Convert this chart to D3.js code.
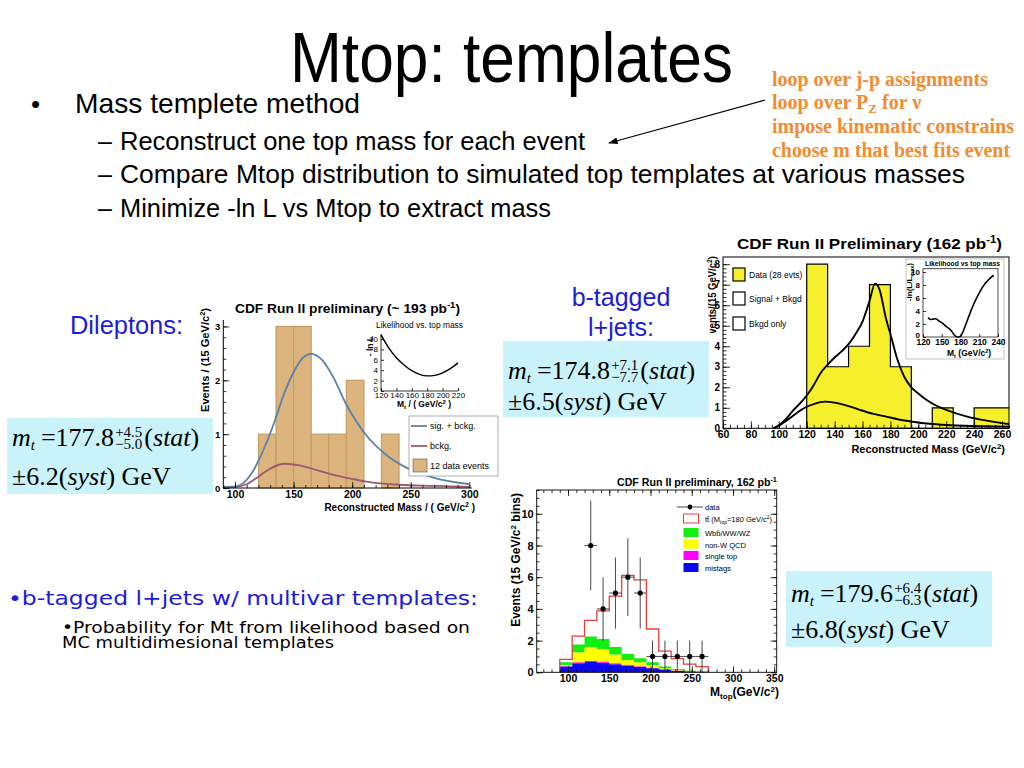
<!DOCTYPE html>
<html><head><meta charset="utf-8">
<script src="https://cdn.jsdelivr.net/npm/d3@7/dist/d3.min.js"></script>
<style>
html,body{margin:0;padding:0;background:#fff;}
svg{display:block;}
</style></head>
<body>
<svg id="slide" width="1024" height="768"></svg>
<script>
// ================= DATA =================
const titleText = "Mtop: templates";
const mainBullet = "Mass templete method";
const subBullets = ["Reconstruct one top mass for each event",
  "Compare Mtop distribution to simulated top templates at various masses",
  "Minimize -ln L vs Mtop to extract mass"];
const noteLines = ["loop over j-p assignments", "loop over P", "impose kinematic constrains", "choose m that best fits event"];

// Chart 1: dileptons
const dilBinLo = [120, 135, 150, 165, 180, 195, 225];
const dilCounts = [1, 3, 3, 1, 1, 2, 1];
const dilSigMass = [90, 100, 107, 115, 121, 127, 134, 141, 150, 158, 165, 175, 184, 195, 212, 230, 247, 270, 300];
const dilSigVal  = [0.02, 0.03, 0.09, 0.3, 0.55, 0.85, 1.25, 1.7, 2.15, 2.42, 2.49, 2.36, 2.05, 1.55, 0.98, 0.6, 0.37, 0.19, 0.07];
const dilBkgMass = [90, 100, 110, 120, 130, 142, 155, 170, 185, 200, 212, 240, 270, 300];
const dilBkgVal  = [0.01, 0.02, 0.07, 0.21, 0.36, 0.45, 0.42, 0.33, 0.24, 0.17, 0.12, 0.06, 0.04, 0.02];
const dilLikeMass = [120, 130, 140, 150, 160, 170, 180, 190, 200, 210, 220];
const dilLikeVal  = [10.8, 8.3, 6.4, 5.0, 3.9, 3.2, 2.9, 3.0, 3.5, 4.3, 5.4];
const dilXTicks = [100, 150, 200, 250, 300];
const dilYTicks = [0, 1, 2, 3];
const dilInsetXTicks = [120, 140, 160, 180, 200, 220];
const dilInsetYTicks = [0, 2, 4, 6, 8, 10];
const dilLegend = ["sig. + bckg.", "bckg.", "12 data events"];

// Chart 2: b-tagged l+jets
const ljBinLo = [120, 135, 150, 165, 180, 195, 210, 225, 240, 255];
const ljCounts = [8, 3, 4, 7, 3, 0, 1, 0, 1, 1];
const ljSigMass = [96, 100, 105, 110, 115, 120, 125, 130, 135, 140, 145, 150, 155, 160, 165, 169, 172, 177, 180, 185, 190, 195, 200, 206, 213, 220, 235, 250, 260, 266];
const ljSigVal  = [0, 0.15, 0.45, 0.85, 1.2, 1.6, 2.1, 2.7, 3.1, 3.45, 3.75, 4.1, 4.6, 5.2, 6.2, 7.05, 6.8, 5.3, 4.6, 3.35, 2.5, 2.0, 1.7, 1.38, 1.1, 0.9, 0.57, 0.36, 0.25, 0.2];
const ljBkgMass = [96, 100, 105, 110, 115, 120, 125, 133, 140, 150, 158, 168, 177, 186, 196, 208, 220, 240, 266];
const ljBkgVal  = [0, 0.12, 0.35, 0.6, 0.85, 1.05, 1.18, 1.3, 1.25, 1.08, 0.9, 0.7, 0.57, 0.43, 0.32, 0.22, 0.16, 0.11, 0.08];
const ljLikeMass = [128, 132, 136, 140, 145, 150, 155, 160, 165, 170, 175, 178, 182, 188, 195, 200, 210, 220, 228, 233];
const ljLikeVal  = [3.0, 2.7, 2.75, 2.8, 2.5, 2.2, 1.8, 1.4, 1.0, 0.3, 0.0, 0.0, 0.4, 1.8, 3.6, 4.8, 6.8, 8.3, 9.1, 9.5];
const ljXTicks = [60, 80, 100, 120, 140, 160, 180, 200, 220, 240, 260];
const ljYTicks = [0, 1, 2, 3, 4, 5, 6, 7, 8];
const ljInsetXTicks = [120, 150, 180, 210, 240];
const ljInsetYTicks = [0, 2, 4, 6, 8, 10];
const ljLegend = ["Data (28 evts)", "Signal + Bkgd", "Bkgd only"];

// Chart 3: multivariate templates (stacked)
const mvBinLo     = [90, 105, 120, 135, 150, 165, 180, 195, 210, 225, 240, 255];
const mvMistag    = [0.36, 0.57, 0.65, 0.60, 0.50, 0.42, 0.34, 0.25, 0.17, 0.10, 0.06, 0.04];
const mvSingleTop = [0.03, 0.06, 0.08, 0.08, 0.07, 0.06, 0.04, 0.03, 0.02, 0.02, 0.01, 0.01];
const mvNonW      = [0.07, 0.63, 0.87, 0.79, 0.56, 0.30, 0.25, 0.18, 0.06, 0.03, 0.02, 0.01];
const mvWbb       = [0.17, 0.50, 0.66, 0.63, 0.47, 0.37, 0.25, 0.17, 0.11, 0.05, 0.03, 0.02];
const mvTotal     = [0.82, 2.28, 3.27, 3.88, 4.80, 6.12, 5.83, 2.73, 1.34, 0.86, 0.52, 0.36];
const mvDataMass = [127.5, 142.5, 157.5, 172.5, 187.5, 202.5, 217.5, 232.5, 247.5, 262.5];
const mvDataVal  = [8, 4, 5, 6, 5, 1, 1, 1, 1, 1];
const mvDataErr  = [2.83, 2.0, 2.24, 2.45, 2.24, 1, 1, 1, 1, 1];
const mvXTicks = [100, 150, 200, 250, 300, 350];
const mvYTicks = [0, 2, 4, 6, 8, 10];
const mvLegend = ["data", "tt\u0304 (M", "Wbb\u0304/WW/WZ", "non-W QCD", "single top", "mistags"];
const mvColors = ["#0a0af0", "#ff00ff", "#ffff00", "#11ee11"];

// Results
const results = [
  {val: "177.8", up: "+4.5", dn: "\u22125.0", syst: "6.2"},
  {val: "174.8", up: "+7.1", dn: "\u22127.7", syst: "6.5"},
  {val: "179.6", up: "+6.4", dn: "\u22126.3", syst: "6.8"}
];

// ================= DRAW =================
const SANS = '"Liberation Sans", Arial, Helvetica, sans-serif';
const SERIF = '"Liberation Serif", "Times New Roman", serif';
const svg = d3.select("#slide");

function txt(g, x, y, s, o = {}) {
  const t = g.append("text").attr("x", x).attr("y", y).text(s)
    .attr("font-family", o.family || SANS).attr("font-size", o.size || 12)
    .attr("fill", o.fill || "#000");
  if (o.weight) t.attr("font-weight", o.weight);
  if (o.anchor) t.attr("text-anchor", o.anchor);
  if (o.style) t.attr("font-style", o.style);
  if (o.len) t.attr("textLength", o.len).attr("lengthAdjust", "spacingAndGlyphs");
  return t;
}
function sup(t, s, dy, rel) {
  t.append("tspan").attr("dy", -dy).attr("font-size", rel).text(s);
}
function rot(g, x, y, size, weight) {
  return g.append("text").attr("transform", `translate(${x},${y}) rotate(-90)`)
    .attr("text-anchor", "end").attr("font-family", SANS).attr("font-size", size)
    .attr("font-weight", weight || "bold").attr("fill", "#000");
}
function axis(g, fn, scale, ticks, size, tr, labels, fs) {
  const a = fn(scale).tickValues(ticks).tickSize(size).tickSizeOuter(0).tickPadding(3)
    .tickFormat(labels ? (d => String(d)) : "");
  const ag = g.append("g").attr("transform", tr).call(a);
  ag.select(".domain").remove();
  if (!labels) ag.selectAll("text").remove();
  ag.selectAll("text").attr("font-family", SANS).attr("font-size", fs || 10)
    .attr("font-weight", "bold").attr("fill", "#000");
  ag.selectAll("line").attr("stroke", "#000").attr("stroke-width", 0.8);
  return ag;
}
const rangeTicks = (a, b, s) => d3.range(a, b + 1e-9, s);

// ---------- slide text ----------
txt(svg, 290, 82, titleText, {size: 70, len: 443});
txt(svg, 31, 113, "\u2022", {size: 26});
txt(svg, 75, 113, mainBullet, {size: 28, len: 285});
const subY = [150, 183, 217], subLen = [465, 845, 431];
subBullets.forEach((s, i) => {
  txt(svg, 98, subY[i], "\u2013", {size: 25});
  txt(svg, 120, subY[i], s, {size: 25, len: subLen[i]});
});
const ORANGE = "#F08C32";
const noteY = [86, 109, 133, 157], noteLen = [216, null, 242, 238];
noteLines.forEach((s, i) => {
  const t = txt(svg, 772, noteY[i], s, {size: 20, family: SERIF, weight: "bold", fill: ORANGE, len: noteLen[i]});
  if (i === 1) {
    t.append("tspan").attr("dy", 4).attr("font-size", 13).text("Z");
    t.append("tspan").attr("dy", -4).text(" for \u03bd");
  }
});
// arrow
const defs = svg.append("defs");
defs.append("marker").attr("id", "ah").attr("viewBox", "0 0 10 10").attr("refX", 9).attr("refY", 5)
  .attr("markerWidth", 8).attr("markerHeight", 8).attr("orient", "auto-start-reverse")
  .append("path").attr("d", "M0,1.5L10,5L0,8.5z").attr("fill", "#000");
svg.append("line").attr("x1", 765).attr("y1", 100).attr("x2", 609).attr("y2", 143)
  .attr("stroke", "#000").attr("stroke-width", 1.2).attr("marker-end", "url(#ah)");

const BLUE = "#1c1cd8";
txt(svg, 70, 334, "Dileptons:", {size: 25, fill: BLUE, len: 113});
txt(svg, 621, 306, "b-tagged", {size: 25, fill: BLUE, anchor: "middle"});
txt(svg, 621, 336, "l+jets:", {size: 25, fill: BLUE, anchor: "middle"});
txt(svg, 8, 605, "\u2022b-tagged l+jets w/ multivar templates:", {size: 20, family: '"DejaVu Sans", sans-serif', fill: BLUE, len: 470});
txt(svg, 62, 633, "\u2022Probability for Mt from likelihood based on", {size: 16, family: '"DejaVu Sans", sans-serif', len: 408});
txt(svg, 62, 648, "MC multidimesional templates", {size: 16, family: '"DejaVu Sans", sans-serif', len: 272});

// ---------- Chart 1 ----------
(function () {
  const g = svg.append("g");
  const x = d3.scaleLinear().domain([90, 302]).range([223.3, 471.7]);
  const y = d3.scaleLinear().domain([0, 3.12]).range([488, 320]);
  g.selectAll("rect.bar").data(dilBinLo).join("rect").attr("class", "bar")
    .attr("x", d => x(d)).attr("width", d => x(d + 15) - x(d))
    .attr("y", (d, i) => y(dilCounts[i])).attr("height", (d, i) => y(0) - y(dilCounts[i]))
    .attr("fill", "#DCB47E").attr("stroke", "#C49C66").attr("stroke-width", 1.2);
  const line = (xs, ys) => d3.line().x((d, i) => x(xs[i])).y((d, i) => y(ys[i])).curve(d3.curveMonotoneX)(xs);
  g.append("path").attr("d", line(dilBkgMass, dilBkgVal)).attr("fill", "none").attr("stroke", "#9C5A6C").attr("stroke-width", 1.8);
  g.append("path").attr("d", line(dilSigMass, dilSigVal)).attr("fill", "none").attr("stroke", "#5B82A6").attr("stroke-width", 1.8);
  // axes
  g.append("line").attr("x1", x(90)).attr("x2", x(90)).attr("y1", 320).attr("y2", 488).attr("stroke", "#000");
  g.append("line").attr("x1", x(90)).attr("x2", x(302)).attr("y1", 488).attr("y2", 488).attr("stroke", "#000");
  axis(g, d3.axisLeft, y, dilYTicks, -6, `translate(${x(90)},0)`, true, 9.5);
  axis(g, d3.axisLeft, y, rangeTicks(0, 3, 0.2), -3, `translate(${x(90)},0)`, false);
  axis(g, d3.axisBottom, x, dilXTicks, -6, `translate(0,488)`, true, 10.5);
  axis(g, d3.axisBottom, x, rangeTicks(90, 300, 10), -3, `translate(0,488)`, false);
  const tt = txt(g, 235, 313, "CDF Run II preliminary (~ 193 pb", {size: 13, weight: "bold", len: 225});
  sup(tt, "-1", 5, 9); tt.append("tspan").attr("dy", 5).text(")");
  const yl = rot(g, 209, 308, 10.5); yl.text("Events / (15 GeV/c"); sup(yl, "2", 4, 7); yl.append("tspan").attr("dy", 4).text(")");
  yl.attr("textLength", 104).attr("lengthAdjust", "spacingAndGlyphs");
  const xl = txt(g, 475, 511, "Reconstructed Mass / ( GeV/c", {size: 10, weight: "bold", anchor: "end"});
  sup(xl, "2", 4, 7); xl.append("tspan").attr("dy", 4).text(" )");
  // inset
  const xi = d3.scaleLinear().domain([120, 220]).range([381, 458]);
  const yi = d3.scaleLinear().domain([0, 11]).range([391, 333.8]);
  g.append("path").attr("d", d3.line().x((d, i) => xi(dilLikeMass[i])).y((d, i) => yi(dilLikeVal[i])).curve(d3.curveMonotoneX)(dilLikeMass))
    .attr("fill", "none").attr("stroke", "#000").attr("stroke-width", 1.4);
  g.append("line").attr("x1", 381).attr("x2", 381).attr("y1", 334).attr("y2", 391).attr("stroke", "#000").attr("stroke-width", 0.8);
  g.append("line").attr("x1", 381).attr("x2", 458).attr("y1", 391).attr("y2", 391).attr("stroke", "#000").attr("stroke-width", 0.8);
  axis(g, d3.axisLeft, yi, dilInsetYTicks.slice(1), -3, `translate(381,0)`, true, 8).selectAll("text").attr("font-weight", "normal");
  axis(g, d3.axisLeft, yi, [0], -3, `translate(381,0)`, true, 8).selectAll("text").attr("font-weight", "normal").attr("dy", "0.05em");
  axis(g, d3.axisBottom, xi, dilInsetXTicks, -3, `translate(0,391)`, true, 8).selectAll("text").attr("font-weight", "normal").attr("dy", "0.55em");
  txt(g, 376, 328, "Likelihood vs. top mass", {size: 8.5, len: 87});
  rot(g, 373, 336, 8.5).text("- ln L");
  const xil = txt(g, 397, 407, "M", {size: 8.5, weight: "bold"});
  xil.append("tspan").attr("dy", 2).attr("font-size", 6).text("t");
  xil.append("tspan").attr("dy", -2).text(" / ( GeV/c"); sup(xil, "2", 3, 6); xil.append("tspan").attr("dy", 3).text(" )");
  // legend
  g.append("rect").attr("x", 409).attr("y", 416).attr("width", 89).attr("height", 60)
    .attr("fill", "#fff").attr("stroke", "#999").attr("stroke-width", 0.8);
  g.append("line").attr("x1", 411).attr("x2", 427).attr("y1", 426).attr("y2", 426).attr("stroke", "#5B82A6").attr("stroke-width", 1.8);
  g.append("line").attr("x1", 411).attr("x2", 427).attr("y1", 446).attr("y2", 446).attr("stroke", "#9C5A6C").attr("stroke-width", 1.8);
  g.append("rect").attr("x", 413).attr("y", 459).attr("width", 14).attr("height", 13).attr("fill", "#DCB47E").attr("stroke", "#555").attr("stroke-width", 0.6);
  dilLegend.forEach((s, i) => txt(g, 430, [429, 449, 469][i], s, {size: 9}));
})();

// ---------- Chart 2 ----------
(function () {
  const g = svg.append("g");
  const x = d3.scaleLinear().domain([60, 265]).range([723, 1009]);
  const y = d3.scaleLinear().domain([0, 8.35]).range([428.3, 257]);
  const cp = defs.append("clipPath").attr("id", "c2");
  cp.append("rect").attr("x", 723).attr("y", 257).attr("width", 286).attr("height", 172);
  const pts = ljBinLo.map((d, i) => [d, ljCounts[i]]);
  pts.push([ljBinLo[ljBinLo.length - 1] + 15, ljCounts[ljCounts.length - 1]]);
  const area = d3.area().x(d => x(d[0])).y0(y(0)).y1(d => y(d[1])).curve(d3.curveStepAfter);
  g.append("path").attr("clip-path", "url(#c2)").attr("d", area(pts))
    .attr("fill", "#F6EF2C").attr("stroke", "#000").attr("stroke-width", 1.2);
  const line = (xs, ys) => d3.line().x((d, i) => x(xs[i])).y((d, i) => y(ys[i])).curve(d3.curveMonotoneX)(xs);
  g.append("path").attr("clip-path", "url(#c2)").attr("d", line(ljBkgMass, ljBkgVal)).attr("fill", "none").attr("stroke", "#000").attr("stroke-width", 1.9);
  g.append("path").attr("clip-path", "url(#c2)").attr("d", line(ljSigMass, ljSigVal)).attr("fill", "none").attr("stroke", "#000").attr("stroke-width", 1.9);
  g.append("rect").attr("x", 723).attr("y", 257).attr("width", 286).attr("height", 171.3).attr("fill", "none").attr("stroke", "#000").attr("stroke-width", 1);
  axis(g, d3.axisLeft, y, ljYTicks, -7, `translate(723,0)`, true, 10);
  axis(g, d3.axisLeft, y, rangeTicks(0, 8, 0.2), -3.5, `translate(723,0)`, false);
  axis(g, d3.axisBottom, x, ljXTicks, -7, `translate(0,428.3)`, true, 10.5).selectAll("text").attr("dy", "0.6em");
  axis(g, d3.axisBottom, x, rangeTicks(60, 265, 5), -3.5, `translate(0,428.3)`, false);
  const tt = txt(g, 737, 249, "CDF Run II Preliminary (162 pb", {size: 15, weight: "bold"});
  sup(tt, "-1", 6, 10); tt.append("tspan").attr("dy", 6).text(")");
  tt.attr("textLength", 265).attr("lengthAdjust", "spacingAndGlyphs");
  const cy = defs.append("clipPath").attr("id", "c2y");
  cy.append("rect").attr("x", 690).attr("y", 230).attr("width", 40).attr("height", 103);
  const yg = g.append("g").attr("clip-path", "url(#c2y)");
  const yl = rot(yg, 716, 256, 11);
  yl.text("Events/(15 GeV/c"); sup(yl, "2", 4, 8); yl.append("tspan").attr("dy", 4).text(")");
  yl.attr("textLength", 84).attr("lengthAdjust", "spacingAndGlyphs");
  const xl = txt(g, 1005, 453, "Reconstructed Mass (GeV/c", {size: 11, weight: "bold", anchor: "end"});
  sup(xl, "2", 4, 8); xl.append("tspan").attr("dy", 4).text(")");
  // legend
  const lf = ["#F6EF2C", "#fff", "#fff"], ly = [268, 292, 317];
  ly.forEach((yy, i) => {
    g.append("rect").attr("x", 733).attr("y", yy).attr("width", 12).attr("height", 13)
      .attr("fill", lf[i]).attr("stroke", "#000").attr("stroke-width", 1.2);
    txt(g, 749, yy + 10, ljLegend[i], {size: 8.5});
  });
  // inset
  g.append("rect").attr("x", 906).attr("y", 259).attr("width", 98).attr("height", 100)
    .attr("fill", "#fff").attr("stroke", "#aaa").attr("stroke-width", 0.7);
  const xi = d3.scaleLinear().domain([120, 240]).range([923, 998]);
  const yi = d3.scaleLinear().domain([0, 10.5]).range([337, 268.75]);
  g.append("rect").attr("x", 923).attr("y", 268.75).attr("width", 75).attr("height", 68.25).attr("fill", "none").attr("stroke", "#000").attr("stroke-width", 0.7);
  g.append("path").attr("d", d3.line().x((d, i) => xi(ljLikeMass[i])).y((d, i) => yi(ljLikeVal[i])).curve(d3.curveMonotoneX)(ljLikeMass))
    .attr("fill", "none").attr("stroke", "#000").attr("stroke-width", 1.6);
  axis(g, d3.axisLeft, yi, ljInsetYTicks.slice(1), -3, `translate(923,0)`, true, 8);
  axis(g, d3.axisLeft, yi, [0], -3, `translate(923,0)`, true, 8).selectAll("text").attr("dy", "0.05em");
  axis(g, d3.axisBottom, xi, ljInsetXTicks, -3, `translate(0,337)`, true, 8.5).selectAll("text").attr("dy", "0.6em");
  txt(g, 925, 266, "Likelihood vs top mass", {size: 7, weight: "bold", len: 75});
  const il = rot(g, 912, 263, 8); il.text("-ln(L/L"); il.append("tspan").attr("dy", 2).attr("font-size", 5.5).text("max"); il.append("tspan").attr("dy", -2).text(")");
  const xil = txt(g, 947, 356, "M", {size: 8.5, weight: "bold"});
  xil.append("tspan").attr("dy", 2).attr("font-size", 5.5).text("t");
  xil.append("tspan").attr("dy", -2).text(" (GeV/c"); sup(xil, "2", 3, 5.5); xil.append("tspan").attr("dy", 3).text(")");
})();

// ---------- Chart 3 ----------
(function () {
  const g = svg.append("g");
  const x = d3.scaleLinear().domain([62, 353]).range([536.7, 776.7]);
  const y = d3.scaleLinear().domain([0, 11.5]).range([672.3, 490]);
  const keys = ["mistag", "single", "nonw", "wbb"];
  const rows = mvBinLo.map((d, i) => ({m: d, mistag: mvMistag[i], single: mvSingleTop[i], nonw: mvNonW[i], wbb: mvWbb[i]}));
  const last = rows[rows.length - 1];
  rows.push(Object.assign({}, last, {m: last.m + 15}));
  const series = d3.stack().keys(keys)(rows);
  const area = d3.area().x(d => x(d.data.m)).y0(d => y(d[0])).y1(d => y(d[1])).curve(d3.curveStepAfter);
  g.selectAll("path.layer").data(series).join("path").attr("class", "layer")
    .attr("d", area).attr("fill", (d, i) => mvColors[i]);
  const tpts = [[mvBinLo[0], 0]].concat(mvBinLo.map((d, i) => [d, mvTotal[i]]));
  tpts.push([mvBinLo[mvBinLo.length - 1] + 15, mvTotal[mvTotal.length - 1]]);
  tpts.push([mvBinLo[mvBinLo.length - 1] + 15, 0]);
  g.append("path").attr("d", d3.line().x(d => x(d[0])).y(d => y(d[1])).curve(d3.curveStepAfter)(tpts))
    .attr("fill", "none").attr("stroke", "#E8403C").attr("stroke-width", 1.3);
  // data
  const dg = g.append("g").attr("stroke", "#333").attr("stroke-width", 0.9);
  mvDataMass.forEach((m, i) => {
    dg.append("line").attr("x1", x(m)).attr("x2", x(m)).attr("y1", y(mvDataVal[i] - mvDataErr[i])).attr("y2", y(mvDataVal[i] + mvDataErr[i]));
    dg.append("line").attr("x1", x(m - 7.5)).attr("x2", x(m + 7.5)).attr("y1", y(mvDataVal[i])).attr("y2", y(mvDataVal[i]));
  });
  g.selectAll("circle.pt").data(mvDataMass).join("circle").attr("class", "pt")
    .attr("cx", d => x(d)).attr("cy", (d, i) => y(mvDataVal[i])).attr("r", 2.6).attr("fill", "#000");
  g.append("rect").attr("x", 536.7).attr("y", 490).attr("width", 240).attr("height", 182.3).attr("fill", "none").attr("stroke", "#000").attr("stroke-width", 0.9);
  axis(g, d3.axisLeft, y, mvYTicks, -6, `translate(536.7,0)`, true, 11);
  axis(g, d3.axisLeft, y, rangeTicks(0, 11.5, 0.5), -3, `translate(536.7,0)`, false);
  axis(g, d3.axisRight, y, mvYTicks, -6, `translate(776.7,0)`, false);
  axis(g, d3.axisRight, y, rangeTicks(0, 11.5, 0.5), -3, `translate(776.7,0)`, false);
  axis(g, d3.axisBottom, x, mvXTicks, -6, `translate(0,672.3)`, true, 10.5).selectAll("text").attr("dy", "0.6em");
  axis(g, d3.axisBottom, x, rangeTicks(70, 350, 10), -3, `translate(0,672.3)`, false);
  axis(g, d3.axisTop, x, mvXTicks, -6, `translate(0,490)`, false);
  axis(g, d3.axisTop, x, rangeTicks(70, 350, 10), -3, `translate(0,490)`, false);
  const tt = txt(g, 617, 486, "CDF Run II preliminary, 162 pb", {size: 11.5, weight: "bold"});
  sup(tt, "-1", 4, 8); tt.attr("textLength", 160).attr("lengthAdjust", "spacingAndGlyphs");
  const yl = rot(g, 520, 493, 12); yl.text("Events (15 GeV/c"); sup(yl, "2", 4, 8); yl.append("tspan").attr("dy", 4).text(" bins)");
  const xl = txt(g, 779, 696, "M", {size: 12, weight: "bold", anchor: "end"});
  xl.append("tspan").attr("dy", 3).attr("font-size", 8).text("top");
  xl.append("tspan").attr("dy", -3).text("(GeV/c"); sup(xl, "2", 4, 8); xl.append("tspan").attr("dy", 4).text(")");
  // legend
  g.append("line").attr("x1", 677).attr("x2", 703).attr("y1", 507).attr("y2", 507).attr("stroke", "#333").attr("stroke-width", 0.9);
  g.append("circle").attr("cx", 690).attr("cy", 507).attr("r", 2.4).attr("fill", "#000");
  const boxY = [514, 528, 539.5, 551, 563];
  const boxF = ["#fff", mvColors[3], mvColors[2], mvColors[1], mvColors[0]];
  boxY.forEach((yy, i) => {
    g.append("rect").attr("x", 683.5).attr("y", yy).attr("width", 15).attr("height", 9)
      .attr("fill", boxF[i]).attr("stroke", i === 0 ? "#E8403C" : "none").attr("stroke-width", 1);
  });
  const ly = [509.5, 522, 536, 547.5, 559, 571];
  mvLegend.forEach((s, i) => {
    const t = txt(g, 705, ly[i], s, {size: 7.5});
    if (i === 1) {
      t.append("tspan").attr("dy", 2).attr("font-size", 5).text("top");
      t.append("tspan").attr("dy", -2).text("=180 GeV/c");
      sup(t, "2", 3, 5); t.append("tspan").attr("dy", 3).text(")");
    }
  });
})();

// ---------- result boxes ----------
function resultBox(bx, by, r, y1, y2) {
  const g = svg.append("g");
  g.append("rect").attr("x", bx).attr("y", by).attr("width", 206).attr("height", 76).attr("fill", "#C9F2FA");
  const S = 26, x0 = bx + 5;
  let cx = x0;
  const t1 = txt(g, cx, y1, "m", {family: SERIF, size: S, style: "italic"});
  cx += t1.node().getComputedTextLength();
  const t2 = txt(g, cx, y1 + 4, "t", {family: SERIF, size: 15, style: "italic"});
  cx += t2.node().getComputedTextLength() + 6;
  const t3 = txt(g, cx, y1, "=" + r.val, {family: SERIF, size: S});
  cx += t3.node().getComputedTextLength() + 1;
  const a = txt(g, cx, y1 - 9, r.up, {family: SERIF, size: 15});
  const b = txt(g, cx, y1 + 3, r.dn, {family: SERIF, size: 15});
  cx += Math.max(a.node().getComputedTextLength(), b.node().getComputedTextLength()) + 2;
  const t4 = txt(g, cx, y1, "(", {family: SERIF, size: S});
  t4.append("tspan").attr("font-style", "italic").text("stat");
  t4.append("tspan").text(")");
  const l2 = txt(g, x0, y2, "\u00b1" + r.syst + "(", {family: SERIF, size: S});
  l2.append("tspan").attr("font-style", "italic").text("syst");
  l2.append("tspan").text(") GeV");
}
resultBox(7, 418, results[0], 446, 485);
resultBox(503, 341, results[1], 379, 410);
resultBox(786, 571, results[2], 602, 638);
</script>
</body></html>
